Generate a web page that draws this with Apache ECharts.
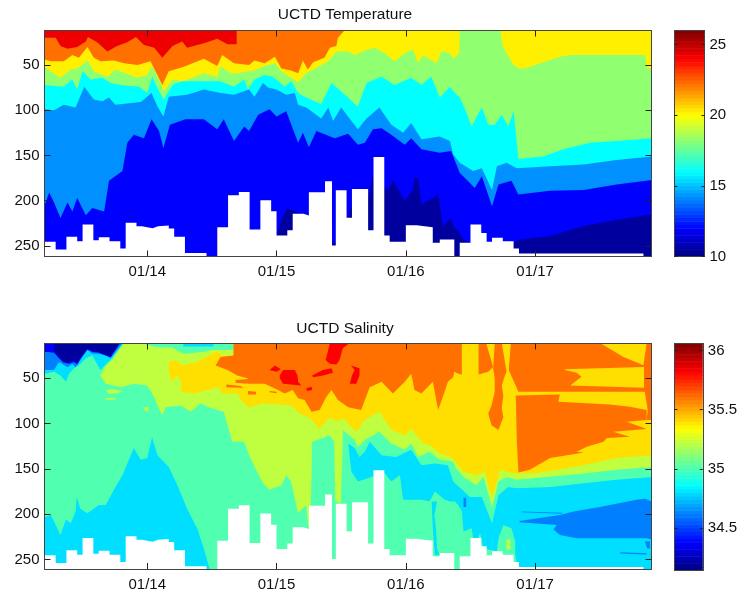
<!DOCTYPE html>
<html><head><meta charset="utf-8">
<style>html,body{margin:0;padding:0;background:#fff}#c{width:740px;height:592px}</style>
<script src="https://cdn.jsdelivr.net/npm/echarts@6/dist/echarts.min.js"></script>
</head><body><div id="c"></div>
<script>
// x values: hours after 01/13 00:00; y values: depth in metres
const dayTicks=[24,48,72,96];
const dayLabels=['01/14','01/15','01/16','01/17'];
const depthTicks=[50,100,150,200,250];
const tempTicks=[10,15,20,25];
const salTicks=[34.5,35,35.5,36];
const salTickLabels=['34.5','35','35.5','36'];

// deepest sample of each cast: [start hour, deepest depth]
const castDepth=[[4.9,245.4],[7,253.9],[9,239.9],[11,244.7],[12,226.3],[14,243.6],[15,240.3],[17,244.7],[19,252.8],[20,224.4],[22,228.1],[23,230.3],[25,228.1],[26,227.4],[28,230.7],[29,239.9],[31,257.6],[35,263],[37,229.2],[39,193.9],[41,190.2],[43,231.8],[45,199.4],[47,211.6],[48,238.4],[50,232.5],[51,214.5],[53,216.3],[54,190.6],[57,178.4],[58.3,249.5],[59,188.4],[61,218.9],[62,186.9],[65,232.5],[66,151.6],[68,238.4],[69,245.4],[72,227],[74,229.2],[77,246.5],[78.3,242.8],[81,263],[82,246.5],[84,226.3],[86,235.5],[87,245.4],[88,241],[90,244.7],[92,252.8],[93,258.3],[116.1,263],[117.7,263]];

// temperature contour edges
const tempTop=[[4.9,11],[117.7,11]];
const temp22=[[4.9,20],[7,20],[7.9,29],[9.2,32],[11,30],[12.6,24],[13,19],[14.7,25],[16.6,35],[18.4,29],[20.3,25],[21.9,19],[23.4,28],[25.3,31],[26.8,42],[28.7,29],[30.5,24],[31.4,31],[34.5,26],[37,21],[38.9,27],[40.6,27],[40.6,11],[117.7,11]];
const temp20=[[4.9,44],[6.1,46],[7.3,46],[8.5,46],[10.1,39],[11.3,42],[12.9,30],[14.1,42],[15.3,46],[17.8,45],[19.7,48],[22.2,50],[24.6,46],[26.8,72],[28,57],[30.8,52],[34.5,43],[37,51],[37.9,39],[40.1,48],[42.9,50],[43.9,45],[45.8,48],[47.7,41],[48.9,54],[50.7,56],[52,59],[52.9,45],[53.8,55],[54.8,47],[56.9,42],[57.9,31],[59.1,29],[59.4,20],[60.6,12],[61.3,11],[117.7,11]];
const temp18=[[4.9,52],[6.1,57],[7.9,64],[9.8,55],[11,54],[12.9,45],[14.1,57],[16.6,63],[18.1,55],[22.2,64],[24,61],[24.9,51],[26.2,66],[27.1,79],[28.7,66],[30.8,68],[34.5,59],[37,63],[37.6,51],[39.5,59],[40.7,59],[42.9,57],[43.9,56],[45.8,51],[47.7,48],[48.9,57],[52,69],[53.5,59],[54.8,55],[57.6,46],[59.1,35],[61.3,35],[62.5,39],[64.4,34],[66.2,31],[68.1,37],[69.9,46],[71.8,37],[73.3,33],[74.3,48],[75.2,39],[77.7,48],[78.6,35],[80.2,37],[80.8,43],[81.9,37],[82,11],[89.5,11],[90,29],[91,40],[92,50],[92.9,54],[94.1,54],[98.1,46],[100.6,41],[102.5,39],[116.4,39],[116.8,54],[117.7,54]];
const temp16=[[4.9,72],[8.5,74],[10.1,66],[11,77],[12,57],[13.5,66],[15.7,64],[17.2,70],[19,72],[22.5,74],[24,81],[24.9,63],[26.2,79],[27.1,88],[28.7,72],[30.5,68],[34.5,68],[37.6,68],[40.1,74],[42,66],[42.7,77],[43.9,66],[45.8,61],[47.3,63],[49.5,74],[50.7,68],[52,81],[53.5,86],[56.3,93],[58.2,70],[60.3,81],[63.1,96],[64.7,70],[67.5,63],[69.9,72],[73,64],[74.9,72],[76.7,63],[78.3,86],[80.2,74],[81.1,81],[82,86],[83.3,103],[84.2,118],[86.1,97],[87.3,116],[88.5,116],[89.8,105],[91,118],[92,101],[92.9,154],[97.5,151],[101.2,143],[106.2,136],[111.1,134],[117.7,131]];
const temp14=[[4.9,99],[6.7,100],[8.5,94],[10.7,97],[12.3,74],[14.1,88],[15.7,90],[16.9,86],[18.1,94],[22.8,91],[24.8,81],[25.9,96],[27,107],[28,85],[31.4,83],[34.5,77],[37.6,81],[40.1,83],[42.9,77],[43.9,85],[45.5,70],[46.4,75],[48,77],[49.8,83],[51.4,81],[52,94],[53.5,97],[56.3,109],[57.6,97],[58.5,112],[60,97],[63.1,121],[64.7,109],[67.1,97],[69.3,116],[71.5,125],[73,114],[74.9,132],[78.3,129],[80.2,134],[80.8,149],[82,158],[84.5,167],[86.1,164],[88,188],[88.9,162],[90.7,158],[92.6,164],[98.8,162],[105,160],[111.1,155],[117.7,151]];
const temp12=[[4.9,206],[5.8,191],[6.7,202],[7.9,219],[9.2,202],[10.1,212],[11,197],[12.6,216],[13.8,208],[16,212],[16.9,178],[19.4,167],[20.3,136],[21.5,127],[23.4,131],[24.8,110],[26.2,123],[27,142],[28.2,116],[31.1,110],[34.5,110],[37,121],[38.2,110],[40.1,134],[42,118],[42.9,123],[44.6,105],[46.7,99],[48,107],[49.8,101],[52,136],[52.9,125],[54,141],[55.4,123],[58.8,131],[61.3,126],[63.1,138],[64.4,136],[65.9,121],[67.5,120],[69.3,127],[71.8,138],[73,131],[74.9,143],[78.3,147],[80.4,145],[82,169],[84.8,186],[86.1,173],[88,206],[89.2,182],[91.6,178],[92.9,193],[98.8,189],[105,188],[111.1,182],[117.7,177]];
const temp11=[[4.9,263],[47.9,263],[48,239],[48.9,221],[50,208],[52.6,215],[54.2,239],[58.2,246],[59.1,246],[61,224],[61.9,206],[65,197],[65.9,173],[67.1,182],[68.7,188],[69.6,177],[71.8,200],[73.3,188],[73.6,175],[74.3,175],[74.9,204],[77,197],[78,193],[78.9,228],[80.4,219],[80.8,228],[82,235],[82.7,243],[83.9,246],[92,246],[92.9,243],[98.8,239],[105,228],[111.1,221],[117.7,215]];

// salinity contour regions
const salBase=[[4.9,11],[117.7,11],[117.7,263],[4.9,263]];
const salFresh1=[[4.9,205],[5,203],[6.1,201],[7,212],[7.9,223],[8.9,206],[9.8,210],[10.7,197],[10.9,181],[11.6,194],[12.9,199],[15,190],[16.3,190],[18.1,170],[19.4,157],[21.5,127],[22.8,140],[24,138],[24.9,115],[25.9,135],[28,148],[29.6,168],[31.4,194],[33.3,216],[34.5,238],[35.6,261],[35.7,263],[4.9,263]];
const salTopA=[[4.9,11],[19.7,11],[17.5,28],[16.6,33],[15.3,41],[13.8,25],[12.6,28],[11.3,36],[10.4,39],[9.5,45],[8.9,54],[7.9,47],[6.7,43],[5.1,45],[4.9,45]];
const salTopB=[[4.9,11],[19.4,11],[17.2,28],[16.3,25],[15,23],[13.8,23],[12.9,19],[11.6,30],[10.7,38],[10.1,34],[9.2,38],[8.2,34],[7.6,32],[6.7,41],[5.8,41],[4.9,41]];
const salTopC=[[4.9,11],[19,11],[17.2,27],[16.3,25],[15,22],[13.8,21],[12.9,18],[12,25],[11,35],[10.4,32],[9.5,34],[8.5,33],[7.6,28],[6.7,22],[5.6,21],[4.9,21]];
const salTopD=[[6.7,11],[18.9,11],[17.2,26],[16.3,24],[15,21],[13.8,20],[12.9,18],[12.1,24],[11,33],[10.4,30],[9.5,32],[8.5,32],[7.6,26],[6.7,20]];
const salTopMint2=[[30.7,11],[40,11],[40,19],[30.7,19]];
const salTopAzure2=[[30.7,11],[36.3,11],[36.3,15],[30.7,15]];
const salLime=[[15.3,47],[16.3,36],[17.5,30],[18.7,19],[19.7,11],[23.4,12],[25.6,15.5],[28.7,16.5],[30.8,23],[34.5,21],[38.2,15.5],[39.2,12],[39.5,11],[117.7,11],[117.7,148],[111.1,151],[105,155],[92.6,162],[90.7,159],[89.2,164],[88,192],[86.4,159],[85.1,168],[82.7,159],[81.1,148],[80.8,142],[78.3,140],[76.4,131],[74.3,137],[73,122],[71.8,129],[69.3,122],[67.1,109],[64.4,118],[63.1,126],[62.5,118],[60.3,107],[60.3,120],[59.9,188],[58.9,186],[58.7,120],[57.9,113],[54.6,120],[54.5,157],[54.3,200],[53.9,215],[53.5,190],[52,199],[50.7,164],[49.8,157],[48.9,168],[46.7,173],[45.5,166],[44.2,151],[42.9,135],[42,120],[39.8,120],[38.2,87],[35.8,83],[33.9,78],[32.1,87],[30.2,80],[27.4,82],[26.8,91],[25.9,80],[25.3,71],[24,58],[21.5,56],[19.1,60],[16.3,56]];
const salLimeStreak1=[[16.3,63],[17.5,62],[19.4,64],[18.5,67],[16.8,67]];
const salLimeStreak2=[[16,72],[18.1,71.5],[18.1,73.5],[16.5,74]];
const salLimeStreak3=[[23.1,82],[24.5,82],[23.9,87]];
const salGolden=[[28,43],[28,32],[29.3,30],[30.5,36],[33.3,32],[37,20],[37.9,25],[40,25],[40,11],[117.7,11],[117.7,135],[111.1,138],[105,146],[95.7,155],[92,155],[89.5,151],[88,182],[86.7,153],[85.1,157],[82.7,153],[80.4,137],[78.3,133],[76.7,124.5],[75.2,122],[73,106],[71.8,113],[69.3,107],[67.1,87],[64.4,96],[62.8,109],[60.3,94],[59.1,98],[57.9,93],[56,106],[54.2,94],[52.3,89],[50.7,80],[45.5,78],[44.2,80],[42.7,82],[41.5,75],[40.7,67],[37.9,67],[37.3,60],[32.7,67],[30.2,65],[30.3,54],[29.6,47],[28.6,54]];
const salOrangeMain=[[40,11],[40,25],[37.6,26.5],[36.7,36],[38.9,41],[40.7,47],[42.6,50],[42.7,56],[45.8,56],[48.3,63],[49.5,67],[51,63],[52,72],[53.2,74],[54.5,87],[56,85],[57.2,71],[58.2,63],[59.4,74],[61.3,82],[63.7,85],[65.3,60],[67.5,54],[69.6,67],[71.8,54],[73,45],[73.6,63],[74.9,67],[77,54],[78,85],[79.2,65],[79.8,54],[80.8,49],[81,43],[81.7,45],[82.4,46],[82.4,11]];
const salOrangeCol1=[[85.5,11],[86.9,11],[88.2,37.5],[87.3,43],[85.5,46]];
const salOrangeCol2=[[88.5,11],[89.8,11],[90.7,43],[90.4,47],[89.8,58],[90.1,69],[89.8,83],[90.1,93],[89.2,107],[87.9,102],[87.3,89],[87.9,80],[88.5,65],[88.5,50],[88.2,39]];
const salOrangeRight=[[91.5,11],[117.7,11],[117.7,65],[116.7,65],[92.9,65],[91.1,41]];
const salOrangeWedge=[[92.4,69],[100.6,68],[100.3,76],[109.9,79],[113.6,81.5],[116.7,85],[116.7,96],[113,98],[116.7,106],[110.5,109],[113.6,114.6],[109.3,116],[108.7,120],[105.6,125.6],[103.7,131],[105,132],[98.8,138],[95,151],[92.9,154],[92.6,120]];
const salOrangeStrip=[[116.7,11],[117.7,11],[117.7,96],[116.7,96],[116.9,85],[116.2,60],[116.2,36]];
const salOrangeS1=[[40.4,52],[42.9,51],[42.6,56],[40.4,55]];
const salOrangeS2=[[38.7,57],[41.3,58.5],[41.9,60.6],[38.7,60]];
const salOrangeS3=[[42.7,64],[44.2,65],[44.2,68],[42.7,68]];
const salOrangeS4=[[46.7,64],[48,65],[48,66.5],[46.7,65.5]];
const salGoldenS1=[[101.5,40],[116.2,37.5],[116.2,60.6],[102.5,58],[103.4,54],[104.6,48.5],[103.7,44],[101.5,41]];
const salGoldenS2=[[108,11],[112.4,26.5],[116.1,35.7],[116.7,11]];
const salRed1=[[57.9,11],[61.6,11],[60.3,17],[59.7,30],[59.1,35],[57.9,34],[57.1,30],[57.5,21]];
const salRed2=[[48.6,47],[49.2,41],[51.4,41],[51.9,47],[52,54],[52.6,58],[50.7,57],[49.2,56],[48.6,50]];
const salRed3=[[46.7,41],[47.7,36],[48.8,40],[48,43]];
const salRed4=[[54.6,47],[56.6,41],[58.2,39],[58.5,44],[56.6,47],[54.8,49]];
const salRed5=[[61.8,36],[63.4,39],[63.4,47],[62.8,56],[61.6,56],[62,47],[62.5,41]];
const salRed6=[[53.5,61],[54.5,59.5],[54.6,63],[53.7,64]];
const salAzureRight=[[61.3,122],[62.5,127],[63.4,137],[64.4,131],[65.3,120],[67.5,135],[70.2,137],[73,129],[74.9,146],[77.4,144],[79.8,146],[80.8,164],[83.9,181],[86.1,181],[88,210],[89.2,179],[91,170],[92.6,171.5],[98.8,170],[105,166],[111.1,162],[117.7,159],[117.7,263],[92.9,263],[92.3,245],[92.3,230],[91.6,215.5],[90.1,212],[89.2,226.5],[88.9,241],[86.4,237.5],[85.8,221],[84.8,234],[84.5,226.5],[84.2,215.5],[82.7,219],[82.4,197],[81.7,190],[81.1,186],[80.2,186],[79.2,184],[77.4,175],[76.4,186],[74.9,184],[71.5,184],[70.9,157],[69.3,164],[67.8,153],[65.6,159],[63.1,164],[61.9,153]];
const salAzureStreak=[[76.8,186],[77.8,186],[77.3,201],[77.6,215.5],[77.8,237.5],[78.2,245],[77.4,245],[77,215.5],[76.9,201]];
const salBlueWedge=[[93.1,207.5],[100.6,201],[103.1,197],[108,192],[114.8,184],[116.4,183],[117.7,186],[117.7,228],[116.7,226.5],[112.4,226.5],[103.7,226.5],[100.6,223],[99.4,217],[100,212],[93.1,209]];
const salBlueS1=[[93.5,197],[101,198.5],[101,199.5],[93.5,198]];
const salBlueS2=[[111.8,242],[116.7,243],[116.7,244.5],[111.8,243.5]];
const salBlueS3=[[116.4,230],[117.3,230],[117.3,238],[116.8,238]];
const salBlueS4=[[82.7,182],[83.2,182],[83.2,192],[82.7,192]];
const salLimeSpot=[[90.7,228],[91.4,228],[91.4,239],[90.7,239]];

const RED='#ee0000',ORANGE='#ff7000',YEL='#fff000',GRN='#90ff70',CYN='#00ffff',AZU='#0090ff',BLU='#0000ff',NAVY='#00009f';
const MINT='#50ffaf',LIME='#bfff40',GOLD='#ffdf00',SRED='#ff0000',SAZU='#00dfff',SB2='#0080ff';
const FONT='"Liberation Sans",Helvetica,Arial,sans-serif';
const TMIN=4.93,TMAX=117.6;
const plots=[{top:30.5,dmin:11.9,dmax:261.6},{top:343.5,dmin:11.7,dmax:260.5}];

function jet(t){ // 64-step MATLAB jet
  const c=x=>Math.round(255*Math.max(0,Math.min(1,x)));
  return `rgb(${c(1.5-Math.abs(4*t-3))},${c(1.5-Math.abs(4*t-2))},${c(1.5-Math.abs(4*t-1))})`;
}
function poly(g,color,pts){
  return {type:'custom',xAxisIndex:g*2,yAxisIndex:g*2,clip:true,silent:true,animation:false,data:[0],
    renderItem:(p,api)=>({type:'polygon',shape:{points:pts.map(q=>api.coord(q))},style:{fill:color}})};
}
function edge(g,color,pts){ // contour edge filled down to the axis end
  return {type:'line',xAxisIndex:g*2,yAxisIndex:g*2,data:pts,showSymbol:false,silent:true,animation:false,clip:true,
    lineStyle:{width:0},itemStyle:{color:color},areaStyle:{color:color,opacity:1,origin:'end'}};
}
function mask(g){
  return Object.assign(edge(g,'#fff',castDepth),{step:'end',z:3});
}
const frame='#444';
const lab={fontFamily:FONT,fontSize:15,color:'#111'};
const xAxes=[],yAxes=[],grids=[];
plots.forEach((p,i)=>{
  grids.push({left:44.5,width:607,top:p.top,height:226});
  const line={show:true,onZero:false,lineStyle:{color:frame,width:1}};
  const tick={show:true,inside:true,length:6,lineStyle:{color:'#222',width:1}};
  xAxes.push({gridIndex:i,type:'value',min:TMIN,max:TMAX,position:'bottom',z:10,splitLine:{show:false},axisLine:line,
    axisTick:Object.assign({},tick,{customValues:dayTicks}),
    axisLabel:Object.assign({},lab,{customValues:dayTicks,margin:8,formatter:v=>dayLabels[dayTicks.indexOf(v)]})});
  xAxes.push({gridIndex:i,type:'value',min:TMIN,max:TMAX,position:'top',z:10,splitLine:{show:false},axisLine:line,
    axisTick:Object.assign({},tick,{customValues:dayTicks}),axisLabel:{show:false}});
  yAxes.push({gridIndex:i,type:'value',inverse:true,min:p.dmin,max:p.dmax,position:'left',z:10,splitLine:{show:false},axisLine:line,
    axisTick:Object.assign({},tick,{customValues:depthTicks}),
    axisLabel:Object.assign({},lab,{customValues:depthTicks,margin:5,formatter:v=>String(v)})});
  yAxes.push({gridIndex:i,type:'value',inverse:true,min:p.dmin,max:p.dmax,position:'right',z:10,splitLine:{show:false},axisLine:line,
    axisTick:Object.assign({},tick,{customValues:depthTicks}),axisLabel:{show:false}});
});
// colour bars
const bars=[{top:30.5,h:226,min:10,max:26,ticks:tempTicks,labels:tempTicks.map(String)},
            {top:343.5,h:227,min:34.14,max:36.06,ticks:salTicks,labels:salTickLabels}];
const barSeries=[];
bars.forEach((b,i)=>{
  const g=2+i;
  grids.push({left:674.5,width:30,top:b.top,height:b.h});
  const line={show:true,onZero:false,lineStyle:{color:frame,width:1}};
  const tick={show:true,inside:true,length:3,lineStyle:{color:'#222',width:1}};
  xAxes.push({gridIndex:g,type:'value',min:0,max:1,position:'bottom',z:10,splitLine:{show:false},axisLine:line,axisTick:{show:false},axisLabel:{show:false}});
  xAxes.push({gridIndex:g,type:'value',min:0,max:1,position:'top',z:10,splitLine:{show:false},axisLine:line,axisTick:{show:false},axisLabel:{show:false}});
  yAxes.push({gridIndex:g,type:'value',min:b.min,max:b.max,position:'left',z:10,splitLine:{show:false},axisLine:line,
    axisTick:Object.assign({},tick,{customValues:b.ticks}),axisLabel:{show:false}});
  yAxes.push({gridIndex:g,type:'value',min:b.min,max:b.max,position:'right',z:10,splitLine:{show:false},axisLine:line,
    axisTick:Object.assign({},tick,{customValues:b.ticks}),
    axisLabel:Object.assign({},lab,{customValues:b.ticks,margin:5,formatter:v=>b.labels[b.ticks.indexOf(v)]})});
  const levels=[];for(let k=0;k<64;k++)levels.push(k);
  const step=(b.max-b.min)/64;
  barSeries.push({type:'custom',xAxisIndex:g*2,yAxisIndex:g*2,silent:true,animation:false,data:levels,
    renderItem:(p,api)=>{const k=api.value(0),a=api.coord([0,b.min+k*step]),c=api.coord([1,b.min+(k+1)*step]);
      return {type:'rect',shape:{x:a[0],y:c[1],width:c[0]-a[0],height:a[1]-c[1]+0.5},style:{fill:jet((k+.5)/64)}};},
    encode:{x:0}});
});
const series=[
  edge(0,RED,tempTop),edge(0,ORANGE,temp22),edge(0,YEL,temp20),edge(0,GRN,temp18),edge(0,CYN,temp16),edge(0,AZU,temp14),edge(0,BLU,temp12),edge(0,NAVY,temp11),mask(0),
  poly(1,MINT,salBase),poly(1,SAZU,salFresh1),poly(1,SAZU,salTopA),poly(1,SB2,salTopB),poly(1,BLU,salTopC),poly(1,NAVY,salTopD),
  poly(1,LIME,salLime),poly(1,LIME,salLimeStreak1),poly(1,LIME,salLimeStreak2),poly(1,LIME,salLimeStreak3),
  poly(1,MINT,salTopMint2),poly(1,SAZU,salTopAzure2),
  poly(1,GOLD,salGolden),
  poly(1,ORANGE,salOrangeMain),poly(1,ORANGE,salOrangeCol1),poly(1,ORANGE,salOrangeCol2),poly(1,ORANGE,salOrangeRight),poly(1,ORANGE,salOrangeWedge),poly(1,ORANGE,salOrangeStrip),
  poly(1,ORANGE,salOrangeS1),poly(1,ORANGE,salOrangeS2),poly(1,ORANGE,salOrangeS3),poly(1,ORANGE,salOrangeS4),
  poly(1,GOLD,salGoldenS1),poly(1,GOLD,salGoldenS2),
  poly(1,SRED,salRed1),poly(1,SRED,salRed2),poly(1,SRED,salRed3),poly(1,SRED,salRed4),poly(1,SRED,salRed5),poly(1,SRED,salRed6),
  poly(1,SAZU,salAzureRight),poly(1,SAZU,salAzureStreak),
  poly(1,SB2,salBlueWedge),poly(1,SB2,salBlueS1),poly(1,SB2,salBlueS2),poly(1,SB2,salBlueS3),poly(1,SB2,salBlueS4),poly(1,LIME,salLimeSpot),
  mask(1)
].concat(barSeries);
const titleStyle={fontFamily:FONT,fontSize:15.5,fontWeight:'normal',color:'#111'};
const chart=echarts.init(document.getElementById('c'),null,{renderer:'canvas'});
chart.setOption({animation:false,backgroundColor:'#fff',
  title:[{text:'UCTD Temperature',left:340,top:2,textAlign:'center',textStyle:titleStyle},
         {text:'UCTD Salinity',left:340,top:316,textAlign:'center',textStyle:titleStyle}],
  grid:grids,xAxis:xAxes,yAxis:yAxes,series:series});
</script></body></html>
